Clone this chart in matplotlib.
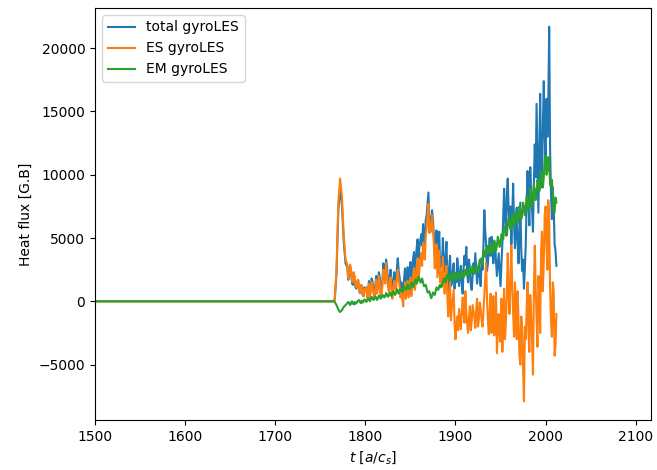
import numpy as np
import matplotlib
matplotlib.use("Agg")
import matplotlib.pyplot as plt

# Quiet phase before the turbulence sets in (flux is zero)
t_quiet = np.arange(1500, 1760, 2)

# Active phase: even-time samples 1760..2012
t_even = np.arange(1760, 2013, 2)
# Active phase: odd-time samples 1781..2011
t_odd = np.arange(1781, 2012, 2)

es_even = [
    0, 0, 20, 150, 2500, 7800, 9700, 8300, 5200, 3300,
    2900, 2200, 2600, 1500, 2000, 1100, 1700, 700, 1200, 400,
    800, 300, 1400, 800, 1200, 300, 1700, 1100, 1500, 600,
    2500, 1400, 2200, 800, 1900, 200, 1600, 900, 2500, 1200,
    600, -400, 1500, 800, 300, 1900, 1100, 2600, 1500, 3400,
    2500, 3800, 4600, 3300, 5800, 7700, 6200, 6800, 4600, 3200,
    1900, 4000, 2400, 3500, 600, 2800, -1200, 1600, -500, 900,
    -3000, -1200, -600, -2200, 300, -1700, -900, -2500, -400, -1600,
    -800, -2100, 200, -1400, -600, -2000, 500, 3000, -1500, -800,
    -2500, 400, -1800, -4100, -1000, -3200, -4000, 1000, -1500, 3800,
    -1000, 4400, -800, 1500, -3000, -1500, -5000, -2200, -7900, -3000,
    1500, -4000, -1000, -5800, 4400, -1500, 2000, -2500, 5500, 3000,
    7500, 2500, 6500, -1500, 1500, -4300, -1000,
]
es_odd = [
    1800, 2900, 1700, 2300, 1300, 1600, 900, 1300, 500, 1000,
    1100, 600, 300, 1500, 700, 900, 600, 2000, 300, 1300,
    1900, 3000, 1200, 1400, 700, 1100, 1000, 1900, 1700, 300,
    200, 900, 200, 1600, 1100, 400, 2000, 900, 2800, 1700,
    3200, 2800, 4000, 5200, 6900, 5400, 5500, 5800, 2600, 4500,
    3000, 1500, 1200, 1800, 1900, 400, 500, -1500, 200, -1800,
    -1800, -2300, -1500, -800, -900, 800, -1800, -1300, -2300, -300,
    -1300, -700, -2000, -100, -1500, -900, 1800, 200, -2600, 600,
    -800, -2700, 700, -2600, -2400, 200, -1800, -3000, 500, 600,
    1800, 1000, -2800, -1500, 800, -4300, -1200, -5300, -2000, -600,
    -2500, 500, -3200, 700, 1200, -3600, 600, 4000, 800, 6800,
    4500, 8000, 1000, -2800, 800, -3500,
]

em_even = [
    0, 0, 0, -50, -300, -650, -850, -700, -450, -300,
    -150, -100, -200, -150, -50, -150, 0, -50, 50, 0,
    100, 50, 200, 150, 250, 200, 300, 250, 400, 300,
    450, 400, 550, 450, 600, 550, 700, 650, 850, 750,
    900, 850, 1100, 1000, 1200, 1150, 1400, 1300, 1700, 1600,
    1800, 1500, 1500, 1200, 1000, 700, 500, 400, 600, 800,
    1000, 1200, 1100, 1500, 1700, 1900, 1800, 2000, 1900, 2100,
    2000, 1800, 2100, 1900, 2200, 2000, 2300, 2100, 2500, 2300,
    2400, 2600, 2500, 2900, 3100, 3000, 4000, 3700, 4200, 4000,
    4300, 4100, 4600, 4400, 4800, 4500, 5200, 5800, 5500, 6000,
    6300, 6000, 6600, 6200, 6900, 6500, 7200, 6800, 7500, 7300,
    8000, 7600, 8500, 8200, 8800, 8600, 9300, 9000, 10200, 9800,
    11500, 10300, 11000, 9200, 8600, 7000, 7800,
]
em_odd = [
    -50, -300, 0, -250, -200, 0, 100, -150, -100, 150,
    -50, 250, 0, 350, 100, 400, 100, 450, 200, 500,
    300, 650, 350, 700, 400, 800, 500, 950, 600, 1000,
    750, 1200, 900, 1350, 950, 1500, 1100, 1700, 1400, 1950,
    1500, 1800, 1200, 1300, 700, 800, 250, 700, 500, 1100,
    900, 1300, 1200, 1800, 1500, 2100, 1600, 2200, 1700, 2300,
    1700, 2300, 1800, 2400, 1900, 2500, 2000, 2700, 2200, 2800,
    2200, 2800, 2300, 3300, 2900, 3900, 3500, 4400, 3800, 4600,
    3800, 4800, 4000, 5100, 4300, 5300, 4900, 5900, 5200, 6600,
    5700, 6900, 5900, 7100, 6200, 7500, 6500, 7800, 6800, 8300,
    7200, 8900, 7500, 9200, 8000, 9600, 8700, 10200, 9000, 11200,
    10000, 11400, 9200, 9600, 7000, 8200,
]

total_even = [
    0, 0, 20, 100, 2200, 7150, 9000, 7600, 4750, 3000,
    2700, 2100, 2400, 1300, 1900, 1000, 1700, 650, 1250, 400,
    900, 400, 1600, 1000, 1500, 500, 2000, 1400, 1900, 900,
    3000, 1800, 2800, 1200, 2500, 800, 2300, 1500, 3400, 1900,
    1500, 500, 2600, 1800, 1500, 3100, 2500, 3900, 3200, 4900,
    4300, 5300, 6100, 4500, 6800, 8600, 6700, 7200, 5200, 4000,
    2900, 5500, 3500, 5000, 2300, 4700, 600, 3600, 1400, 3000,
    2200, 3400, 1200, 2800, 600, 3600, 4300, 1500, 2600, 900,
    3000, 3800, 1400, 2900, 1200, 2500, 7200, 4500, 3000, 5000,
    5100, 3000, 4600, 2000, 3800, 1200, 4500, 8900, 5200, 9700,
    6000, 4500, 9300, 4200, 7400, 3000, 7800, 2400, 1000, 4500,
    10300, 6000, 8400, 5500, 12400, 15600, 7000, 16400, 9000, 17400,
    11000, 13000, 21700, 8500, 9000, 4500, 2800,
]
total_odd = [
    1700, 2800, 1600, 2200, 1100, 1500, 900, 1200, 500, 1100,
    1100, 800, 500, 1800, 800, 1200, 900, 2300, 600, 1700,
    2300, 3300, 1600, 1900, 1200, 1700, 1600, 2600, 2400, 1100,
    1200, 1800, 1300, 2700, 2200, 1700, 3400, 2200, 4300, 3300,
    4800, 4400, 5300, 6400, 7700, 6200, 5900, 6500, 3600, 5600,
    4300, 2600, 2800, 3200, 3400, 1800, 2600, 1200, 2400, 1000,
    1500, 2500, 2100, 1400, 2600, 2900, 2200, 3300, 1300, 2000,
    2200, 2600, 2300, 1900, 3400, 4200, 5600, 2400, 4100, 3600,
    3900, 4000, 3100, 2900, 2500, 2800, 6800, 6600, 8300, 7200,
    7500, 6700, 6100, 5600, 4500, 5500, 4000, 3300, 2600, 7800,
    7800, 10600, 7200, 9400, 9800, 11500, 12000, 10500, 14000, 13200,
    16000, 15500, 12000, 6500, 7500, 4000,
]

# Merge quiet, even and odd samples into one time-ordered record
t_all = np.concatenate([t_quiet, t_even, t_odd])
order = np.argsort(t_all, kind="stable")
quiet = np.zeros(len(t_quiet))
t = t_all[order]
total = np.concatenate([quiet, total_even, total_odd])[order]
es = np.concatenate([quiet, es_even, es_odd])[order]
em = np.concatenate([quiet, em_even, em_odd])[order]

fig = plt.figure(figsize=(6.57, 4.70), dpi=100)
ax = fig.add_axes([0.1446, 0.1064, 0.8463, 0.8766])

ax.plot(t, total, label="total gyroLES")
ax.plot(t, es, label="ES gyroLES")
ax.plot(t, em, label="EM gyroLES")

ax.set_xlim(1500, 2117)
ax.set_xticks(np.arange(1500, 2101, 100))
ax.set_xlabel(r"$t\ [a/c_s]$")
ax.set_ylabel("Heat flux [G.B]")
ax.legend(loc="upper left")

fig.savefig("out.png", dpi=100)
